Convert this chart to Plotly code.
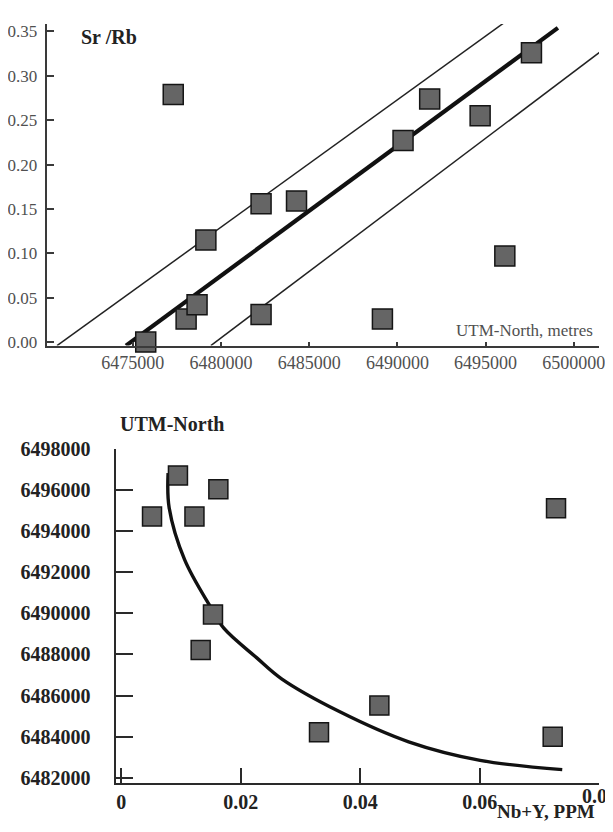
import plotly.graph_objects as go

# ---- Top chart data: Sr/Rb vs UTM-North ----
top_x = [6477290, 6491830, 6494690, 6497600, 6490320, 6475730, 6478020,
         6478640, 6479140, 6482270, 6484280, 6482270, 6489150, 6496090]
top_y = [0.279, 0.274, 0.255, 0.326, 0.227, 0.000, 0.026,
         0.042, 0.115, 0.156, 0.159, 0.031, 0.026, 0.097]

trend_x = [6474610, 6499100]
trend_y = [-0.004, 0.354]
upper_x = [6470700, 6496410]
upper_y = [-0.004, 0.365]
lower_x = [6479420, 6501500]
lower_y = [-0.004, 0.327]

top_xticks = [6475000, 6480000, 6485000, 6490000, 6495000, 6500000]
top_yticks = [0.00, 0.05, 0.10, 0.15, 0.20, 0.25, 0.30, 0.35]

# ---- Bottom chart data: UTM-North vs Nb+Y ----
bot_x = [0.0095, 0.01626, 0.00516, 0.01226, 0.07276, 0.01536, 0.0133,
         0.0331, 0.0432, 0.0722]
bot_y = [6496690, 6496020, 6494700, 6494700, 6495100, 6489940, 6488210,
         6484220, 6485510, 6484000]

curve_x = [0.00785, 0.00802, 0.01061, 0.01491, 0.01717, 0.02265, 0.02684,
           0.0365, 0.0481, 0.06006, 0.0738]
curve_y = [6496810, 6495140, 6492600, 6490320, 6489270, 6487840, 6486810,
           6485220, 6483750, 6482850, 6482400]

bot_xticks = [0, 0.02, 0.04, 0.06]
bot_xtext = ["0", "0.02", "0.04", "0.06"]
bot_yticks = [6482000, 6484000, 6486000, 6488000, 6490000, 6492000,
              6494000, 6496000, 6498000]

# the figure is drawn at page offset 8px with size 597x816
OFF, FW, FH = 8, 597, 816


def X(px):
    return (px - OFF) / FW


def Y(py):
    return 1 - (py - OFF) / FH


FONT = "Liberation Serif"
MARK = dict(symbol="square", size=20, color="#656565",
            line=dict(color="#151515", width=1.5))

fig = go.Figure()

fig.add_trace(go.Scatter(x=upper_x, y=upper_y, mode="lines",
                         line=dict(color="#222222", width=1.5),
                         xaxis="x", yaxis="y", showlegend=False))
fig.add_trace(go.Scatter(x=lower_x, y=lower_y, mode="lines",
                         line=dict(color="#222222", width=1.5),
                         xaxis="x", yaxis="y", showlegend=False))
fig.add_trace(go.Scatter(x=trend_x, y=trend_y, mode="lines",
                         line=dict(color="#111111", width=4.2),
                         xaxis="x", yaxis="y", showlegend=False))
fig.add_trace(go.Scatter(x=top_x, y=top_y, mode="markers", marker=MARK,
                         cliponaxis=False,
                         xaxis="x", yaxis="y", showlegend=False))

fig.add_trace(go.Scatter(x=curve_x, y=curve_y, mode="lines",
                         line=dict(color="#111111", width=3.4, shape="spline",
                                   smoothing=1.0),
                         xaxis="x2", yaxis="y2", showlegend=False))
fig.add_trace(go.Scatter(x=bot_x, y=bot_y, mode="markers",
                         marker=dict(MARK, size=19), cliponaxis=False,
                         xaxis="x2", yaxis="y2", showlegend=False))

axcommon = dict(showgrid=False, zeroline=False, showline=True,
                ticks="inside", ticklabeloverflow="allow")

fig.update_layout(
    width=FW, height=FH,
    margin=dict(l=0, r=0, t=0, b=0),
    paper_bgcolor="white", plot_bgcolor="white",
    font=dict(family=FONT, color="#222222"),
    xaxis=dict(axcommon, domain=[X(46), 1], anchor="y",
               range=[6470160, 6501430], tickvals=top_xticks,
               tickformat="d", linecolor="#3a3a3a", linewidth=1.5,
               tickcolor="#3a3a3a", ticklen=4, tickwidth=1.5,
               tickfont=dict(family=FONT, size=18, color="#505050")),
    yaxis=dict(axcommon, domain=[Y(341.5), Y(13)], anchor="x",
               range=[-0.0039, 0.3585], tickvals=top_yticks,
               tickformat=".2f", linecolor="#3a3a3a", linewidth=1.5,
               tickcolor="#3a3a3a", ticklen=7, tickwidth=1.5,
               ticklabelstandoff=5,
               tickfont=dict(family=FONT, size=17, color="#505050")),
    xaxis2=dict(axcommon, domain=[X(115), 1], anchor="y2",
                range=[-0.00094, 0.07995], tickvals=bot_xticks,
                ticktext=bot_xtext, linecolor="#2a2a2a", linewidth=2,
                tickcolor="#2a2a2a", ticklen=15, tickwidth=2,
                tickfont=dict(family=FONT, size=20, color="#222222",
                              weight="bold")),
    yaxis2=dict(axcommon, domain=[Y(788), Y(446.7)], anchor="x2",
                range=[6481760, 6498000], tickvals=bot_yticks,
                tickformat="d", linecolor="#2a2a2a", linewidth=2,
                tickcolor="#2a2a2a", ticklen=17, tickwidth=2,
                ticklabelstandoff=19,
                tickfont=dict(family=FONT, size=20, color="#222222",
                              weight="bold")),
    annotations=[
        dict(text="<b>Sr /Rb</b>", x=X(78), y=Y(26),
             xref="paper", yref="paper", xanchor="left", yanchor="middle",
             showarrow=False, font=dict(family=FONT, size=20, color="#222222")),
        dict(text="UTM-North, metres", x=X(601), y=Y(326),
             xref="paper", yref="paper", xanchor="right", yanchor="middle",
             showarrow=False, font=dict(family=FONT, size=17, color="#505050")),
        dict(text="<b>UTM-North</b>", x=X(117), y=Y(422),
             xref="paper", yref="paper", xanchor="left", yanchor="middle",
             showarrow=False, font=dict(family=FONT, size=20, color="#222222")),
        dict(text="<b>Nb+Y, PPM</b>", x=X(603), y=Y(817),
             xref="paper", yref="paper", xanchor="right", yanchor="middle",
             showarrow=False, font=dict(family=FONT, size=19, color="#222222")),
        dict(text="<b>0.08</b>", x=X(605.7), y=Y(801.5),
             xref="paper", yref="paper", xanchor="center", yanchor="middle",
             showarrow=False, font=dict(family=FONT, size=20, color="#222222")),
    ],
)

fig.write_html("out.html")
